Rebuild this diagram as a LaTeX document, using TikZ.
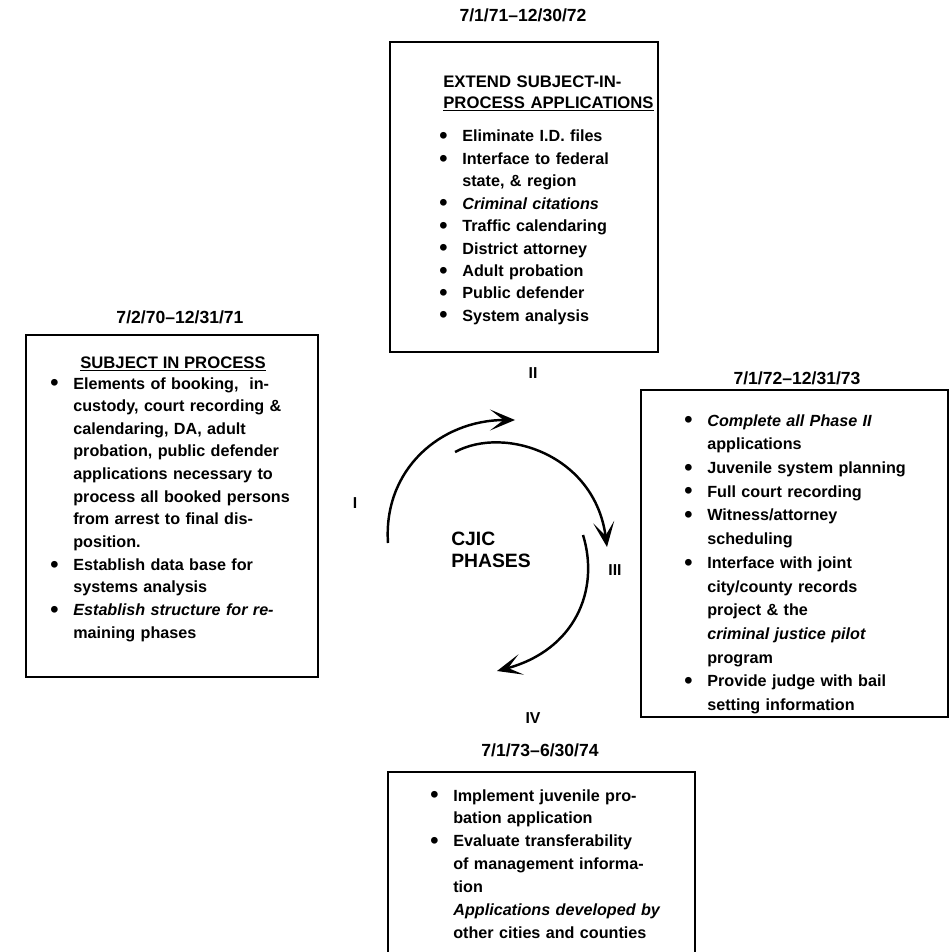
\documentclass[tikz,border=0pt]{standalone}
\usepackage{fontspec}
\setmainfont{Liberation Sans}
\usetikzlibrary{arrows.meta, positioning}
\newcommand{\bul}{\makebox[0.46cm][l]{\raisebox{-0.2ex}{\scalebox{1.45}{\textbullet}}}}
\newcommand{\hang}{\hspace*{0.46cm}}

\begin{document}
\begin{tikzpicture}[x=0.02cm, y=-0.02cm,
  >={Stealth[length=5mm, width=4.2mm, inset=2.7mm]},
  phasebox/.style={draw, line width=1.1pt, inner sep=0pt},
  datelbl/.style={font=\bfseries\fontsize{10}{12}\selectfont},
  titletxt/.style={anchor=base west, inner sep=0pt, align=left,
                   text width=#1, font=\bfseries\fontsize{9.5}{11.4}\selectfont},
  listtxt/.style={anchor=base west, inner sep=0pt, align=left,
                  text width=#1, font=\bfseries\fontsize{9.2}{12.75}\selectfont},
  numlbl/.style={font=\bfseries\fontsize{9}{11}\selectfont}]
  \useasboundingbox[fill=white] (0,0) rectangle (952,952);

  % phase boxes
  \node[phasebox, minimum width=5.36cm, minimum height=6.2cm] (box2) at (524,197) {};
  \node[phasebox, minimum width=5.84cm, minimum height=6.84cm] (box1) at (172,506) {};
  \node[phasebox, minimum width=6.14cm, minimum height=6.54cm] (box3) at (794.5,553.5) {};
  \node[phasebox, minimum width=6.14cm, minimum height=4.56cm] (box4) at (541.5,886) {};

  % dates
  \node[datelbl] (date2) at (523,15) {7/1/71--12/30/72};
  \node[datelbl] (date1) at (180,317) {7/2/70--12/31/71};
  \node[datelbl] (date3) at (797,378) {7/1/72--12/31/73};
  \node[datelbl] (date4) at (540,750) {7/1/73--6/30/74};

  % phase II
  \node[titletxt=5cm] (title2) at (443,88)
    {EXTEND SUBJECT-IN-\\\underline{PROCESS APPLICATIONS}};
  \node[listtxt=5cm] (list2) at (439,142)
    {\bul Eliminate I.D. files\\
     \bul Interface to federal\\
     \hang state, \& region\\
     \bul \textit{Criminal citations}\\
     \bul Traffic calendaring\\
     \bul District attorney\\
     \bul Adult probation\\
     \bul Public defender\\
     \bul System analysis};

  % phase I
  \node[anchor=base, inner sep=0pt, font=\bfseries\fontsize{9.5}{11.4}\selectfont]
    (title1) at (173,368) {\underline{SUBJECT IN PROCESS}};
  \node[listtxt=5.5cm, font=\bfseries\fontsize{9.2}{12.9}\selectfont] (list1) at (50,389)
    {\bul Elements of booking,\ \ in-\\
     \hang custody, court recording \&\\
     \hang calendaring, DA, adult\\
     \hang probation, public defender\\
     \hang applications necessary to\\
     \hang process all booked persons\\
     \hang from arrest to final dis-\\
     \hang position.\\
     \bul Establish data base for\\
     \hang systems analysis\\
     \bul \textit{Establish structure for re-}\\
     \hang maining phases};

  % phase III
  \node[listtxt=5.8cm, font=\bfseries\fontsize{9.2}{13.5}\selectfont] (list3) at (684,426)
    {\bul \textit{Complete all Phase II}\\
     \hang applications\\
     \bul Juvenile system planning\\
     \bul Full court recording\\
     \bul Witness/attorney\\
     \hang scheduling\\
     \bul Interface with joint\\
     \hang city/county records\\
     \hang project \& the\\
     \hang \textit{criminal justice pilot}\\
     \hang program\\
     \bul Provide judge with bail\\
     \hang setting information};

  % phase IV
  \node[listtxt=5.8cm, font=\bfseries\fontsize{9.2}{13.05}\selectfont] (list4) at (430,801)
    {\bul Implement juvenile pro-\\
     \hang bation application\\
     \bul Evaluate transferability\\
     \hang of management informa-\\
     \hang tion\\
     \hang \textit{Applications developed by}\\
     \hang other cities and counties};

  % cycle
  \node[align=left, font=\bfseries\fontsize{11}{12.5}\selectfont] (cjic) at (491,550)
    {CJIC\\PHASES};
  \node[numlbl] (n1) at (355,503) {I};
  \node[numlbl] (n2) at (533,373) {II};
  \node[numlbl] (n3) at (615,570) {III};
  \node[numlbl] (n4) at (533,718) {IV};

  \coordinate (a1s) at (388,543);
  \coordinate (a1e) at (515,420);
  \coordinate (a2s) at (455,452);
  \coordinate (a2e) at (607,547);
  \coordinate (a3s) at (583,535);
  \coordinate (a3e) at (497,671);
  \draw[->, line width=1.4pt] (a1s) .. controls (383,470) and (440,420) .. (a1e);
  \draw[->, line width=1.4pt] (a2s) .. controls (505,425) and (595,455) .. (a2e);
  \draw[->, line width=1.4pt] (a3s) .. controls (600,590) and (575,650) .. (a3e);
\end{tikzpicture}
\end{document}
